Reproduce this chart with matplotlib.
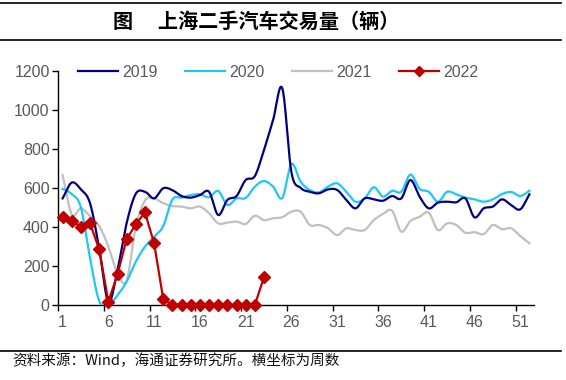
import numpy as np
import matplotlib
matplotlib.use("Agg")
from matplotlib import pyplot as plt
from matplotlib.lines import Line2D

plt.rcParams['font.family'] = ['Liberation Sans', 'Noto Sans CJK SC', 'DejaVu Sans']

weeks = np.arange(1, 53)

y2019 = [546, 627, 592, 521, 290, 15, 180, 420, 570, 580, 546, 598, 588, 558, 550, 563,
         580, 461, 538, 558, 640, 660, 794, 948, 1110, 680, 600, 580, 572, 592, 589, 538,
         495, 546, 541, 534, 558, 546, 640, 555, 495, 524, 529, 526, 546, 449, 495, 504,
         541, 512, 490, 567]
y2020 = [595, 568, 500, 240, 20, 0, 50, 120, 222, 299, 350, 405, 540, 550, 563, 567,
         552, 584, 512, 546, 548, 606, 635, 606, 548, 722, 632, 589, 577, 606, 623, 580,
         529, 546, 603, 555, 585, 580, 668, 595, 580, 529, 580, 567, 550, 541, 529, 541,
         568, 579, 558, 585]
y2021 = [666, 465, 495, 455, 405, 300, 162, 125, 400, 535, 546, 521, 507, 504, 495, 504,
         470, 418, 422, 427, 415, 457, 435, 444, 450, 478, 478, 410, 410, 393, 358, 393,
         384, 384, 435, 466, 483, 376, 430, 452, 473, 384, 418, 410, 370, 373, 363, 410,
         388, 393, 353, 316]
y2022 = [452, 432, 401, 418, 285, 17, 157, 338, 413, 474, 316, 29, 0, 0, 0, 0,
         0, 0, 0, 0, 0, 0, 142]

xticks_lab = np.arange(1, 52, 5)


def smooth(x, y, n=20):
    # Catmull-Rom style smoothing, similar to Excel "smoothed line"
    x = np.asarray(x, float)
    y = np.asarray(y, float)
    px = np.concatenate([[2 * x[0] - x[1]], x, [2 * x[-1] - x[-2]]])
    py = np.concatenate([[2 * y[0] - y[1]], y, [2 * y[-1] - y[-2]]])
    xs, ys = [], []
    t = np.linspace(0, 1, n, endpoint=False)
    for i in range(1, len(px) - 2):
        p0, p1, p2, p3 = [np.array([px[j], py[j]]) for j in range(i - 1, i + 3)]
        c1 = p1 + (p2 - p0) / 6
        c2 = p2 - (p3 - p1) / 6
        b = ((1 - t) ** 3)[:, None] * p1 + (3 * (1 - t) ** 2 * t)[:, None] * c1 \
            + (3 * (1 - t) * t ** 2)[:, None] * c2 + (t ** 3)[:, None] * p2
        xs.append(b[:, 0])
        ys.append(b[:, 1])
    xs.append([x[-1]])
    ys.append([y[-1]])
    return np.concatenate(xs), np.concatenate(ys)


fig = plt.figure(figsize=(5.66, 3.80), dpi=100)
ax = fig.add_axes([58 / 566, 1 - 305 / 380, 476 / 566, 234.3 / 380])

c19, c20, c21, c22 = '#000080', '#1EC8F5', '#C0C0C0', '#C00000'
lw = 1.6
fs = 11.5
ax.plot(*smooth(weeks, y2021), color=c21, lw=lw, zorder=2)
ax.plot(*smooth(weeks, y2020), color=c20, lw=lw, zorder=3)
ax.plot(*smooth(weeks, y2019), color=c19, lw=lw, zorder=4)
ax.plot(weeks[:len(y2022)], y2022, color=c22, lw=lw, marker='D', ms=6.5,
        zorder=5, clip_on=False)

ax.set_xlim(0.5, 52.5)
ax.set_ylim(0, 1200)
ax.set_yticks(np.arange(0, 1201, 200))
ax.set_xticks(np.arange(0.5, 53, 5))
ax.set_xticklabels([])
ax.set_xticks(xticks_lab, minor=True)
ax.set_xticklabels([str(v) for v in xticks_lab], minor=True)
ax.tick_params(axis='x', which='major', length=4, width=1, direction='out', colors='black')
ax.tick_params(axis='x', which='minor', length=0, pad=7, labelsize=fs, labelcolor='#595959')
ax.tick_params(axis='y', length=4, width=1, direction='out', pad=2, labelsize=fs,
               labelcolor='#595959')
for s in ['top', 'right']:
    ax.spines[s].set_visible(False)
for s in ['left', 'bottom']:
    ax.spines[s].set_linewidth(1)
ax.set_facecolor('none')

handles = [Line2D([], [], color=c19, lw=lw), Line2D([], [], color=c20, lw=lw),
           Line2D([], [], color=c21, lw=lw),
           Line2D([], [], color=c22, lw=lw, marker='D', ms=5)]
leg = ax.legend(handles, ['2019', '2020', '2021', '2022'], ncol=4, frameon=False,
                loc='center left', bbox_to_anchor=(0.042, 0.994), borderaxespad=0,
                borderpad=0, handlelength=2.5, handletextpad=0.25, columnspacing=1.75,
                fontsize=fs)
for t in leg.get_texts():
    t.set_color('#595959')

# title and rules
fig.add_artist(Line2D([0, 561 / 566], [1 - 2.7 / 380] * 2, color='black', lw=1.2))
fig.add_artist(Line2D([0, 561 / 566], [1 - 39.5 / 380] * 2, color='black', lw=1.2))
fig.add_artist(Line2D([0, 561 / 566], [1 - 350.7 / 380] * 2, color='black', lw=1.2))
fig.text(113 / 566, 1 - 21 / 380, '图\u3000 上海二手汽车交易量（辆）', fontsize=14.5,
         fontweight='bold', family=['Noto Sans CJK SC'], va='center', ha='left')
fig.text(12 / 566, 1 - 361 / 380, '资料来源：Wind，海通证券研究所。横坐标为周数', fontsize=10.5,
         family=['Noto Sans CJK SC', 'DejaVu Sans'], va='center', ha='left', color='#111111')

fig.savefig('out.png', dpi=100)
